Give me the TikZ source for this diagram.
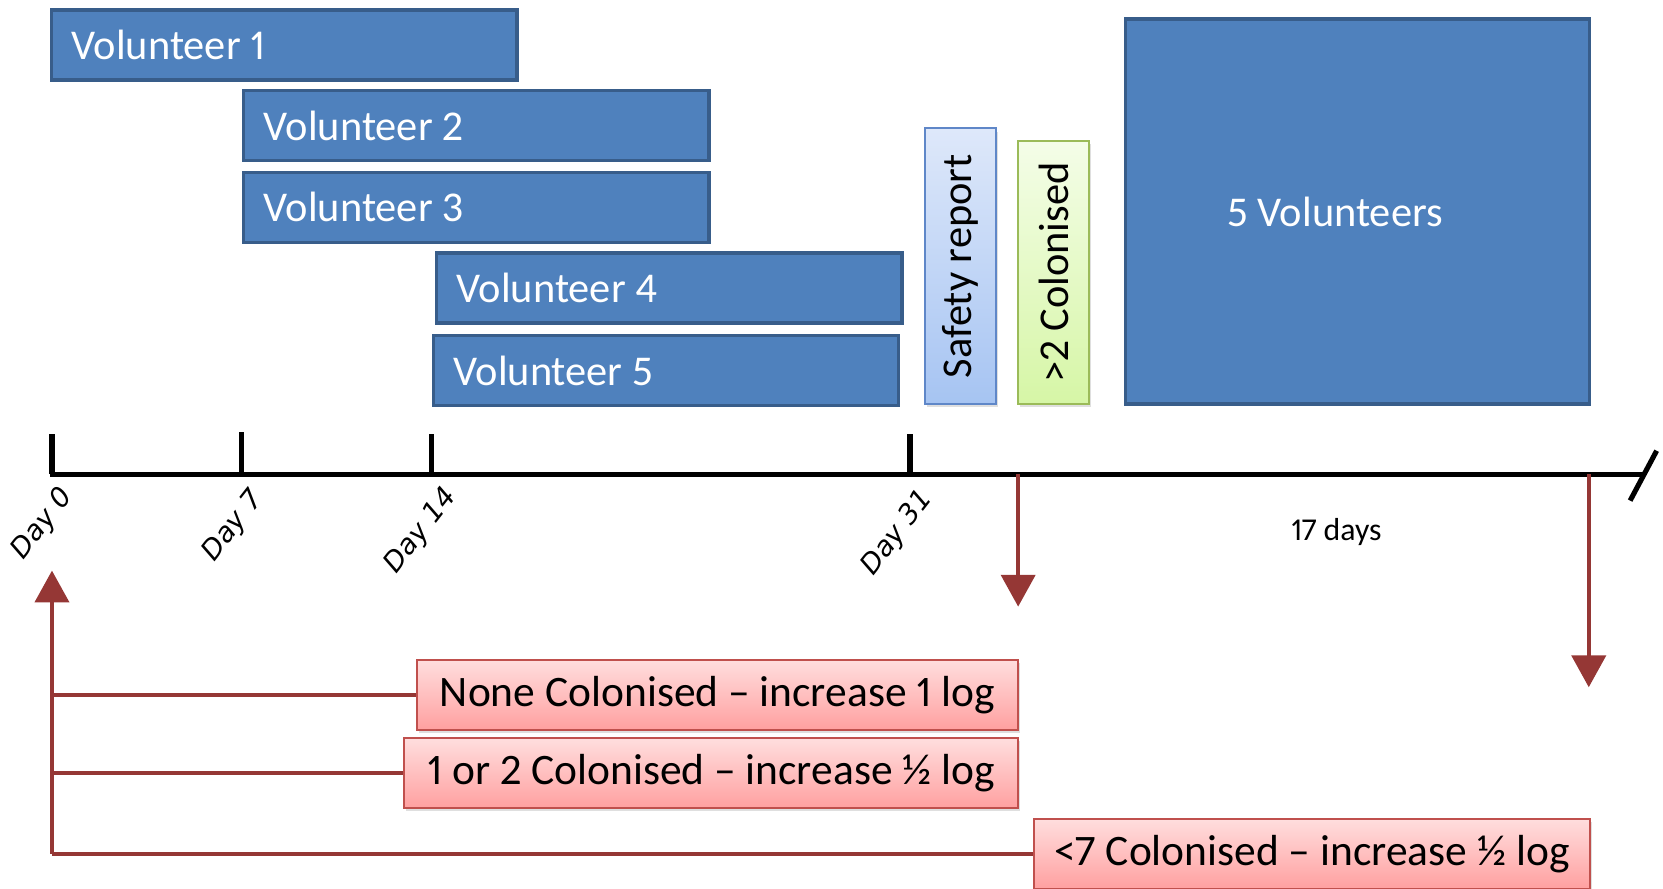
\documentclass[tikz,border=0pt]{standalone}
\usepackage{fontspec}
\setmainfont{Carlito}[Numbers=Proportional]
\newfontfamily\dayfont{DejaVu Sans}
\usetikzlibrary{arrows.meta}
\usetikzlibrary{shadows}

\definecolor{volblue}{RGB}{79,129,189}
\definecolor{voledge}{RGB}{56,93,138}
\definecolor{logred}{RGB}{149,55,53}
\definecolor{rededge}{RGB}{192,80,77}
\definecolor{redtop}{RGB}{255,222,222}
\definecolor{redbottom}{RGB}{255,160,160}
\definecolor{safeleft}{RGB}{222,232,250}
\definecolor{saferight}{RGB}{166,196,242}
\definecolor{safeedge}{RGB}{95,135,200}
\definecolor{colleft}{RGB}{244,253,232}
\definecolor{colright}{RGB}{214,246,166}
\definecolor{coledge}{RGB}{155,187,89}

\begin{document}
\begin{tikzpicture}[x=0.5pt,y=0.5pt,yscale=-1,xscale=1,
  volbox/.style={draw=voledge,line width=1.5pt,fill=volblue,text=white,anchor=north west,
    inner xsep=9.5pt,inner ysep=0pt,text width=200.5pt,minimum height=33pt,align=flush left,font=\fontsize{20}{24}\selectfont},
  sidebox/.style={line width=1pt,rotate=90,minimum width=130pt,minimum height=33.5pt,inner sep=0pt,
    font=\fontsize{20}{24}\selectfont,drop shadow={opacity=0.25,shadow xshift=1pt,shadow yshift=-1.5pt}},
  logbox/.style={draw=rededge,line width=0.9pt,top color=redtop,bottom color=redbottom,minimum height=33pt,inner sep=0pt,
    font=\fontsize{20.5}{24}\selectfont,drop shadow={opacity=0.25,shadow xshift=1pt,shadow yshift=-1.5pt}},
  axisline/.style={line width=2.4pt,black},
  daylabel/.style={rotate=52,anchor=east,inner sep=0pt,font=\dayfont\itshape\fontsize{13}{15}\selectfont},
  redline/.style={draw=logred,line width=2pt},
  redarrow/.style={redline,-{Triangle[width=16pt,length=15pt]}}]
\useasboundingbox (0,0) rectangle (1568,838);

%Shape: Rectangle
\node[volbox] (vol1) at (47,8) {Volunteer 1};
\node[volbox] (vol2) at (228,84) {Volunteer 2};
\node[volbox] (vol3) at (228,161) {Volunteer 3};
\node[volbox] (vol4) at (410,237) {Volunteer 4};
\node[volbox] (vol5) at (407,315) {Volunteer 5};

%Shape: Rectangle
\node[sidebox,draw=safeedge,top color=safeleft,bottom color=saferight] (safety) at (905.5,251) {Safety report};
\node[sidebox,draw=coledge,top color=colleft,bottom color=colright,minimum width=124pt] (twocol) at (993.5,257) {>2 Colonised};
\node[draw=voledge,line width=1.5pt,fill=volblue,text=white,minimum width=219pt,minimum height=181.5pt,
  font=\fontsize{20}{24}\selectfont] (five) at (1280,199.5) {5 Volunteers\hspace*{21pt}};

%Straight Lines
\coordinate (d0) at (49,447);
\coordinate (d7) at (228,447);
\coordinate (d14) at (407,447);
\coordinate (d31) at (858,447);
\coordinate (axend) at (1550,447);
\coordinate (go) at (960,447);
\coordinate (goend) at (960,572);
\coordinate (back) at (1498,447);
\coordinate (backend) at (1498,648);
\draw[axisline] (47,447) -- (axend);
\draw[axisline] (d0) -- ++(0,-38);
\draw[axisline] (d7) -- ++(0,-40);
\draw[axisline] (d14) -- ++(0,-38);
\draw[axisline] (d31) -- ++(0,-38);
\draw[axisline] (1537,472) -- (1562,425);

% Text Node
\node[daylabel] (day0) at (64,464) {Day 0};
\node[daylabel] (day7) at (244,466) {Day 7};
\node[daylabel] (day14) at (426,464) {Day 14};
\node[daylabel] (day31) at (875,466) {Day 31};
\node[font=\fontsize{15}{18}\selectfont] (gap) at (1260,502) {17 days};

%Shape: Rectangle
\node[logbox,minimum width=283.5pt] (none) at (676.5,655) {None Colonised -- increase 1 log};
\node[logbox,minimum width=289.5pt] (half) at (670.5,729) {1 or 2 Colonised -- increase ½ log};
\node[logbox,minimum width=262pt] (fewer) at (1237,805) {<7 Colonised -- increase ½ log};

%Straight Lines
\coordinate (tipup) at (49,538);
\draw[redarrow] (fewer.west -| tipup) -- (tipup);
\draw[redline] (fewer.west -| tipup) -- (fewer.west);
\draw[redline] (half.west -| tipup) -- (half.west);
\draw[redline] (none.west -| tipup) -- (none.west);
\draw[redarrow] (go) -- (goend);
\draw[redarrow] (back) -- (backend);

\end{tikzpicture}
\end{document}
